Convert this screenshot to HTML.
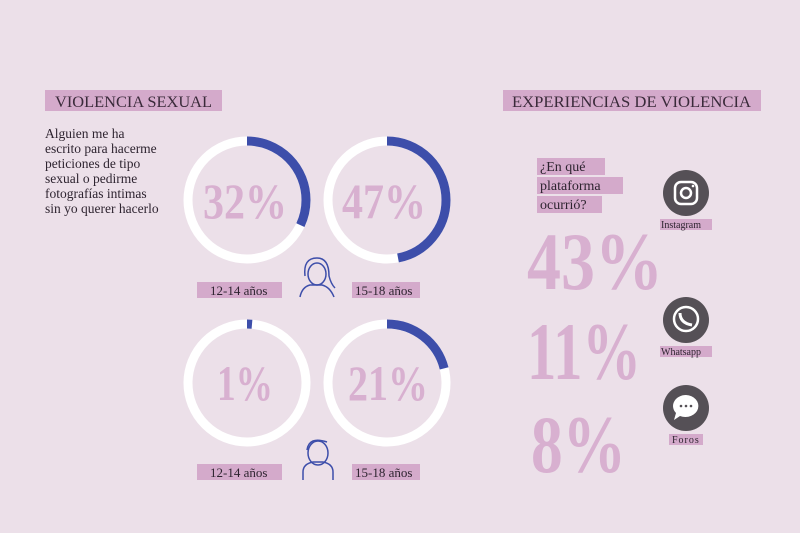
<!DOCTYPE html>
<html><head><meta charset="utf-8"><style>
body{margin:0;background:#ece0e9;}
svg{display:block}
text{font-family:"Liberation Serif",serif;}
</style></head><body>
<svg width="800" height="533" viewBox="0 0 800 533">
<rect width="800" height="533" fill="#ece0e9"/>
<rect x="45" y="90" width="177" height="21" fill="#d4aacb"/>
<text x="55" y="107" font-size="16" fill="#3a2a3a" textLength="157" lengthAdjust="spacingAndGlyphs">VIOLENCIA SEXUAL</text>
<rect x="503" y="90" width="258" height="21" fill="#d4aacb"/>
<text x="512" y="107" font-size="16" fill="#3a2a3a" textLength="239" lengthAdjust="spacingAndGlyphs">EXPERIENCIAS DE VIOLENCIA</text>
<g font-size="13.5" fill="#2e2430">
<text x="45" y="138">Alguien me ha</text>
<text x="45" y="153">escrito para hacerme</text>
<text x="45" y="168">peticiones de tipo</text>
<text x="45" y="183">sexual o pedirme</text>
<text x="45" y="198">fotografías intimas</text>
<text x="45" y="213">sin yo querer hacerlo</text>
</g>
<g fill="none" stroke-width="9">
<circle cx="247" cy="200" r="59" stroke="#fff"/>
<circle cx="247" cy="200" r="59" stroke="#3d4eaa" stroke-dasharray="118.6 400" transform="rotate(-90 247 200)"/>
<circle cx="387" cy="200" r="59" stroke="#fff"/>
<circle cx="387" cy="200" r="59" stroke="#3d4eaa" stroke-dasharray="174.2 400" transform="rotate(-90 387 200)"/>
<circle cx="247" cy="383" r="59" stroke="#fff"/>
<circle cx="247" cy="383" r="59" stroke="#3d4eaa" stroke-dasharray="5 400" transform="rotate(-90 247 383)"/>
<circle cx="387" cy="383" r="59" stroke="#fff"/>
<circle cx="387" cy="383" r="59" stroke="#3d4eaa" stroke-dasharray="77.8 400" transform="rotate(-90 387 383)"/>
</g>
<g font-size="50" font-weight="bold" fill="#d8b0d0">
<text x="203" y="218" textLength="84" lengthAdjust="spacingAndGlyphs">32%</text>
<text x="342" y="218" textLength="84" lengthAdjust="spacingAndGlyphs">47%</text>
<text x="217" y="400" textLength="56" lengthAdjust="spacingAndGlyphs">1%</text>
<text x="348" y="400" textLength="80" lengthAdjust="spacingAndGlyphs">21%</text>
</g>
<g font-size="13" fill="#2e2430">
<rect x="197" y="282" width="85" height="16" fill="#d4aacb"/><text x="210" y="295">12-14 años</text>
<rect x="352" y="282" width="68" height="16" fill="#d4aacb"/><text x="355" y="295">15-18 años</text>
<rect x="197" y="464" width="85" height="16" fill="#d4aacb"/><text x="210" y="477">12-14 años</text>
<rect x="352" y="464" width="68" height="16" fill="#d4aacb"/><text x="355" y="477">15-18 años</text>
</g>
<g fill="none" stroke="#3d4eaa" stroke-width="1.5">
<path d="M300 297 q2-10 10-12 l12 0 q8 2 12 12"/>
<path d="M305 276 q-2-18 12-18 q12 0 12 18 q2 8 6 12"/>
<ellipse cx="317" cy="274" rx="9" ry="11"/>
<path d="M303 480 v-8 q0-8 10-10 l10 0 q10 2 10 10 v8"/>
<ellipse cx="318" cy="453" rx="10" ry="12"/>
<path d="M307 450 q2-14 20-8"/>
</g>
<g font-size="14" fill="#2e2430">
<rect x="537" y="158" width="68" height="17" fill="#d4aacb"/><text x="540" y="171">¿En qué</text>
<rect x="537" y="177" width="86" height="17" fill="#d4aacb"/><text x="540" y="190">plataforma</text>
<rect x="537" y="196" width="65" height="17" fill="#d4aacb"/><text x="540" y="209">ocurrió?</text>
</g>
<g font-size="82" font-weight="bold" fill="#d8b0d0">
<text x="527" y="289" textLength="136" lengthAdjust="spacingAndGlyphs">43%</text>
<text x="527" y="379" textLength="114" lengthAdjust="spacingAndGlyphs">11%</text>
<text x="531" y="472" textLength="95" lengthAdjust="spacingAndGlyphs">8%</text>
</g>
<g>
<circle cx="686" cy="193" r="23" fill="#555056"/>
<rect x="675" y="182" width="22" height="22" rx="6" fill="none" stroke="#fff" stroke-width="2.5"/>
<circle cx="686" cy="193" r="5" fill="none" stroke="#fff" stroke-width="2.5"/>
<circle cx="693" cy="186" r="1.3" fill="#fff"/>
<circle cx="686" cy="320" r="23" fill="#555056"/>
<circle cx="686" cy="319" r="12" fill="none" stroke="#fff" stroke-width="2.5"/>
<path d="M680 313 q0 10 12 12" stroke="#fff" stroke-width="3" fill="none"/>
<circle cx="686" cy="408" r="23" fill="#555056"/>
<path d="M686 395 a13 11 0 1 1 -6 21 l-6 4 l2 -7 a13 11 0 0 1 10 -18z" fill="#fff"/>
<circle cx="681" cy="406" r="1.3" fill="#555056"/><circle cx="686" cy="406" r="1.3" fill="#555056"/><circle cx="691" cy="406" r="1.3" fill="#555056"/>
</g>
<g font-size="10" fill="#2e2430">
<rect x="660" y="219" width="52" height="11" fill="#d4aacb"/><text x="661" y="228">Instagram</text>
<rect x="660" y="346" width="52" height="11" fill="#d4aacb"/><text x="661" y="355">Whatsapp</text>
<rect x="669" y="434" width="34" height="11" fill="#d4aacb"/><text x="672" y="443" letter-spacing="1">Foros</text>
</g>
</svg>
</body></html>
